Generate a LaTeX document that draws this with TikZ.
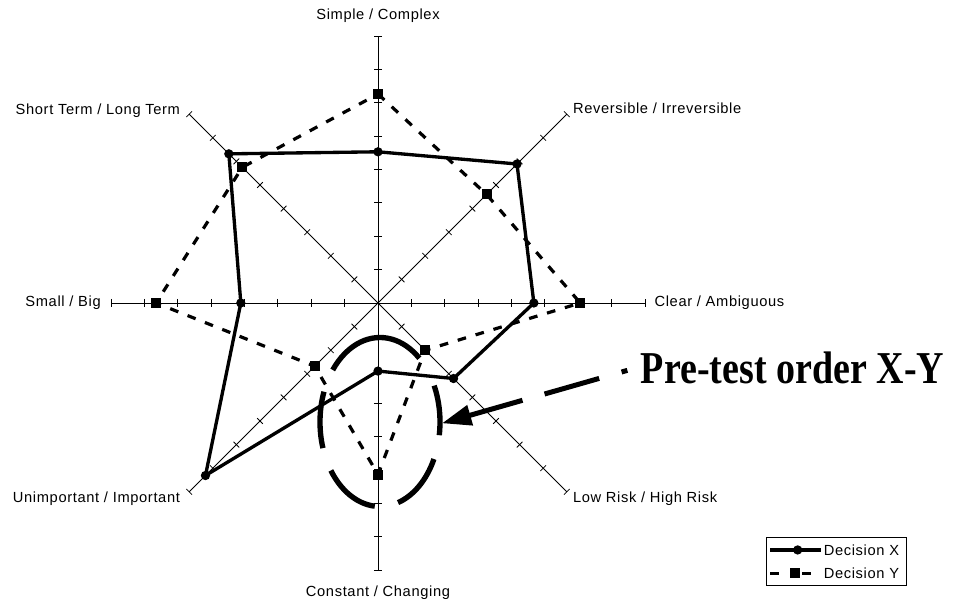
\documentclass[tikz,border=0pt]{standalone}
\usepackage{fontspec}
\setmainfont{Liberation Sans}[LetterSpace=4.4]
\newfontfamily\calloutfont{Liberation Serif}
\usepackage{graphicx}
\usetikzlibrary{positioning,arrows.meta}

\begin{document}
\begin{tikzpicture}[x=0.75pt,y=0.75pt,
  axis/.style={line width=0.6pt},
  lbl/.style={inner sep=0pt,font=\fontsize{11}{13}\selectfont},
  xline/.style={line width=2.5pt,line join=round},
  yline/.style={line width=2.4pt,dash pattern=on 6.5pt off 7.5pt},
  xmark/.style={circle,fill,inner sep=0pt,minimum size=7pt},
  ymark/.style={rectangle,fill,inner sep=0pt,minimum size=7.5pt},
  ovalline/.style={line width=4pt},
  callout/.style={line width=3.75pt,dash pattern=on 4.5pt off 17.5pt on 42.6pt off 17.2pt on 300pt,
    -{Triangle[length=22pt,width=15pt]}}]
\useasboundingbox (-378,-302) rectangle (575,303);
\coordinate (c) at (0,0);
\foreach \i in {1,...,8}{
  \coordinate (a\i) at ({135-45*\i}:267);
  \draw[axis] (c) -- (a\i);
  \foreach \k in {1,...,8}
    \draw[axis,rotate=135-45*\i] (\k*33.375,-4) -- (\k*33.375,4);
}
\node[lbl,above=10pt of a1] (simple) {Simple / Complex};
\node[lbl,anchor=base west] (reversible) at ([xshift=4.5pt,yshift=0.5pt]a2) {Reversible / Irreversible};
\node[lbl,right=7pt of a3] (clear) {Clear / Ambiguous};
\node[lbl,anchor=north west] (risk) at ([xshift=4.5pt]a4) {Low Risk / High Risk};
\node[lbl,below=12pt of a5] (constant) {Constant / Changing};
\node[lbl,anchor=north east] (important) at ([xshift=-6.75pt]a6) {Unimportant / Important};
\node[lbl,left=7.5pt of a7] (small) {Small / Big};
\node[lbl,anchor=base east] (term) at ([xshift=-6.75pt]a8) {Short Term / Long Term};
\foreach \v [count=\i] in {4.53,5.89,4.67,3.2,2.04,7.31,4.11,6.32}
  \coordinate (px\i) at ({135-45*\i}:{\v*33.375});
\foreach \v [count=\i] in {6.26,4.6,6.06,2.0,5.14,2.68,6.65,5.75}
  \coordinate (py\i) at ({135-45*\i}:{\v*33.375});
\draw[yline] (py1) -- (py2) -- (py3) -- (py4) -- (py5) -- (py6) -- (py7) -- (py8) -- cycle;
\draw[xline] (px1) -- (px2) -- (px3) -- (px4) -- (px5) -- (px6) -- (px7) -- (px8) -- cycle;
\foreach \i in {1,...,8}{
  \node[ymark] (my\i) at (py\i) {};
  \node[xmark] (mx\i) at (px\i) {};
}
\coordinate (oval) at (2,-119);
\foreach \s/\e in {-9/25.5,49/142,159/198,215/265,287.5/334}
  \draw[ovalline] (oval) ++(\s:60 and 84.5) arc[start angle=\s,end angle=\e,x radius=60,y radius=84.5];
\node[anchor=base west,inner sep=0pt] (pretest) at (262.7,-80.3)
  {\scalebox{1}[1.2]{\calloutfont\bfseries\fontsize{28.5}{30}\selectfont Pre-test order X-Y}};
\coordinate (arrowstart) at ([xshift=-10pt,yshift=-2pt]pretest.west);
\coordinate (arrowtip) at (64,-120.3);
\draw[callout] (arrowstart) -- (arrowtip);
\node[draw,line width=0.75pt,minimum width=105pt,minimum height=36pt,inner sep=0pt] (legend) at (458.7,-258.7) {};
\coordinate (lx0) at ([xshift=3pt,yshift=8.8pt]legend.west);
\coordinate (lx1) at ([xshift=41.3pt,yshift=8.8pt]legend.west);
\draw[xline] (lx0) -- (lx1);
\node[xmark] (legx) at ([xshift=23.6pt,yshift=8.8pt]legend.west) {};
\node[lbl,right=1.7pt of lx1] (decx) {Decision X};
\coordinate (ly0) at ([xshift=3pt,yshift=-8.7pt]legend.west);
\coordinate (ly1) at ([xshift=38.7pt,yshift=-8.7pt]legend.west);
\draw[yline,dash pattern=on 6.45pt off 17.7pt on 6.2pt] (ly0) -- (ly1);
\node[ymark] (legy) at ([xshift=21.4pt,yshift=-8.7pt]legend.west) {};
\node[lbl,right=1.7pt of lx1|-ly1] (decy) {Decision Y};
\end{tikzpicture}
\end{document}
